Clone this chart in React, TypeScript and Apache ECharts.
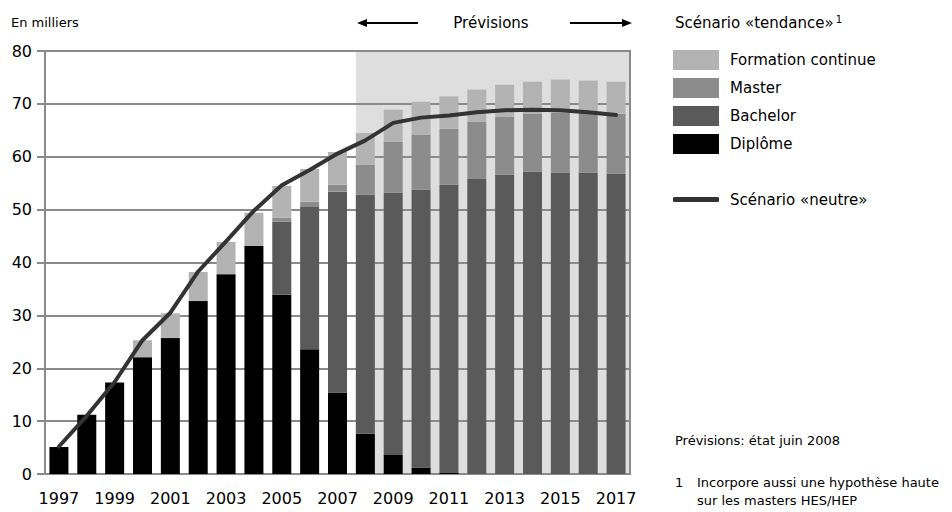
import React, { useEffect, useRef } from "react";
import * as echarts from "echarts";

const years = ["1997","1998","1999","2000","2001","2002","2003","2004","2005","2006","2007","2008","2009","2010","2011","2012","2013","2014","2015","2016","2017"];
const diplome = [5.1, 11.2, 17.3, 22.1, 25.7, 32.7, 37.8, 43.1, 33.9, 23.6, 15.4, 7.6, 3.6, 1.2, 0.3, 0, 0, 0, 0, 0, 0];
const bachelor = [0, 0, 0, 0, 0, 0, 0, 0, 13.8, 26.9, 38.0, 45.2, 49.6, 52.6, 54.4, 55.8, 56.6, 57.2, 57.0, 57.0, 56.8];
const master = [0, 0, 0, 0, 0, 0, 0, 0, 0.8, 1.0, 1.3, 5.7, 9.6, 10.4, 10.6, 10.8, 10.9, 11.0, 11.3, 11.3, 11.3];
const formation = [0, 0, 0, 3.2, 4.7, 5.5, 6.1, 6.3, 6.0, 6.2, 6.2, 6.0, 6.1, 6.2, 6.1, 6.1, 6.1, 6.0, 6.3, 6.1, 6.1];
const neutre = [5.2, 11, 17.4, 25.3, 30.5, 38.3, 44, 49.8, 54.6, 57.5, 60.6, 63.1, 66.4, 67.4, 67.8, 68.4, 68.8, 68.9, 68.8, 68.4, 67.9];
const yTicks = { min: 0, max: 80, interval: 10 };
const forecastStart = "2008";

const FONT = "DejaVu Sans";
const GRIDC = "#8a8a8a";
const BARW = 19;

export default function App() {
  const ref = useRef<HTMLDivElement>(null);
  useEffect(() => {
    if (!ref.current) return;
    const chart = echarts.init(ref.current, null, { renderer: "svg" });
    const barSeries = (name: string, data: number[], color: string) => ({
      name,
      type: "bar",
      stack: "t",
      data,
      barWidth: BARW,
      itemStyle: { color },
      z: 2,
    });
    chart.setOption({
      animation: false,
      textStyle: { fontFamily: FONT },
      grid: { left: 45, right: 322, top: 51, bottom: 38, show: true, borderColor: GRIDC, borderWidth: 2, backgroundColor: "transparent" },
      xAxis: {
        type: "category",
        data: years,
        axisLine: { lineStyle: { color: GRIDC, width: 2 } },
        axisTick: { show: false },
        axisLabel: { interval: 1, fontSize: 16, color: "#000", margin: 16, fontFamily: FONT },
      },
      yAxis: {
        type: "value",
        min: yTicks.min,
        max: yTicks.max,
        interval: yTicks.interval,
        axisLine: { show: true, lineStyle: { color: GRIDC, width: 2 } },
        axisTick: { show: true, length: 8, lineStyle: { color: GRIDC, width: 2 } },
        splitLine: { lineStyle: { color: GRIDC, width: 2 } },
        axisLabel: { fontSize: 16, color: "#000", margin: 13, fontFamily: FONT },
      },
      legend: [
        {
          orient: "vertical",
          left: 673,
          top: 50,
          itemWidth: 46,
          itemHeight: 20,
          itemGap: 8,
          padding: 0,
          icon: "rect",
          selectedMode: false,
          textStyle: { fontSize: 15, color: "#000", fontFamily: FONT, padding: [0, 0, 0, 6] },
          data: ["Formation continue", "Master", "Bachelor", "Diplôme"],
        },
        {
          orient: "vertical",
          left: 673,
          top: 192,
          itemWidth: 46,
          itemHeight: 5,
          padding: 0,
          selectedMode: false,
          textStyle: { fontSize: 15, color: "#000", fontFamily: FONT, padding: [0, 0, 0, 6] },
          data: [{ name: "Scénario «neutre»", icon: "roundRect" }],
        },
      ],
      series: [
        barSeries("Diplôme", diplome, "#000000"),
        barSeries("Bachelor", bachelor, "#5a5a5a"),
        barSeries("Master", master, "#8c8c8c"),
        barSeries("Formation continue", formation, "#b3b3b3"),
        {
          name: "Scénario «neutre»",
          type: "line",
          data: neutre,
          symbol: "none",
          lineStyle: { color: "#333333", width: 4, cap: "round", join: "round" },
          itemStyle: { color: "#333333" },
          z: 5,
        },
      ],
    });

    const xs = chart.convertToPixel({ xAxisIndex: 0 }, forecastStart) as number;
    const xLast = chart.convertToPixel({ xAxisIndex: 0 }, years[years.length - 1]) as number;
    const xPrev = chart.convertToPixel({ xAxisIndex: 0 }, years[years.length - 2]) as number;
    const yTop = chart.convertToPixel({ yAxisIndex: 0 }, yTicks.max) as number;
    const yBot = chart.convertToPixel({ yAxisIndex: 0 }, yTicks.min) as number;
    const x0 = xs - BARW / 2;
    const x1 = xLast + (xLast - xPrev) / 2;

    chart.setOption({
      graphic: [
        {
          type: "rect",
          z: -10,
          silent: true,
          shape: { x: x0, y: yTop, width: x1 - x0, height: yBot - yTop },
          style: { fill: "#dedede" },
        },
        { type: "text", x: 11, y: 22, style: { text: "En milliers", fontSize: 13, fontFamily: FONT, fill: "#000", verticalAlign: "middle" } },
        { type: "text", x: 491, y: 23, style: { text: "Prévisions", fontSize: 15, fontFamily: FONT, fill: "#000", align: "center", verticalAlign: "middle" } },
        { type: "line", shape: { x1: 418, y1: 23, x2: 364, y2: 23 }, style: { stroke: "#000", lineWidth: 2 } },
        { type: "polygon", shape: { points: [[357, 23], [367, 19], [367, 27]] }, style: { fill: "#000" } },
        { type: "line", shape: { x1: 570, y1: 23, x2: 625, y2: 23 }, style: { stroke: "#000", lineWidth: 2 } },
        { type: "polygon", shape: { points: [[632, 23], [622, 19], [622, 27]] }, style: { fill: "#000" } },
        {
          type: "text",
          x: 675,
          y: 23,
          style: {
            text: "{a|Scénario «tendance»}{s|1}",
            fontFamily: FONT,
            fill: "#000",
            verticalAlign: "middle",
            rich: {
              a: { fontSize: 15, fontFamily: FONT, fill: "#000" },
              s: { fontSize: 10, fontFamily: FONT, fill: "#000", padding: [0, 0, 8, 2] },
            },
          },
        },
        { type: "text", x: 675, y: 440, style: { text: "Prévisions: état juin 2008", fontSize: 13, fontFamily: FONT, fill: "#000", verticalAlign: "middle" } },
        { type: "text", x: 675, y: 482, style: { text: "1", fontSize: 13, fontFamily: FONT, fill: "#000", verticalAlign: "middle" } },
        { type: "text", x: 697, y: 482, style: { text: "Incorpore aussi une hypothèse haute", fontSize: 13, fontFamily: FONT, fill: "#000", verticalAlign: "middle" } },
        { type: "text", x: 697, y: 500, style: { text: "sur les masters HES/HEP", fontSize: 13, fontFamily: FONT, fill: "#000", verticalAlign: "middle" } },
      ],
    });

    return () => chart.dispose();
  }, []);
  return <div ref={ref} style={{ width: 952, height: 512, position: "absolute", left: 0, top: 0 }} />;
}
